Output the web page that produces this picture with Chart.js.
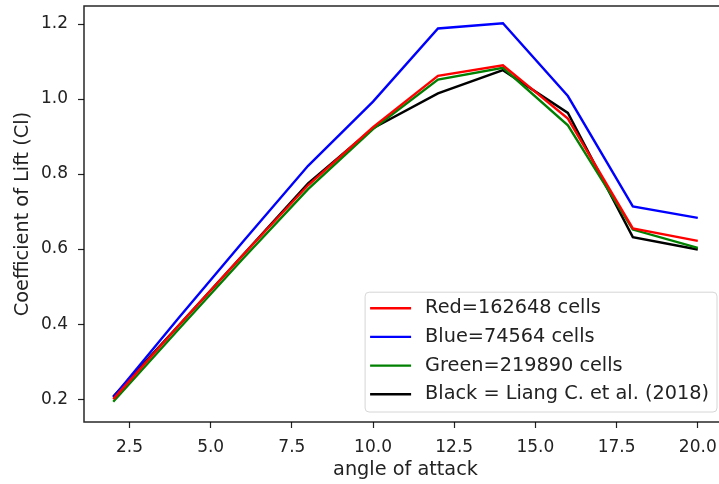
<!DOCTYPE html>
<html>
<head>
<meta charset="utf-8">
<script src="https://cdn.jsdelivr.net/npm/chart.js"></script>
<style>
  html, body { margin: 0; padding: 0; background: #fff; overflow: hidden; }
  #wrap { position: relative; width: 745px; height: 484px; }
</style>
</head>
<body>
<div id="wrap"><canvas id="liftChart"></canvas></div>
<script>
// angle of attack (deg)
const angles = [2, 4, 6, 8, 10, 12, 14, 16, 18, 20];

// lift coefficient per mesh
const redCl   = [0.200, 0.395, 0.585, 0.770, 0.925, 1.062, 1.090, 0.948, 0.655, 0.622];
const blueCl  = [0.205, 0.415, 0.620, 0.822, 0.993, 1.188, 1.202, 1.008, 0.714, 0.683];
const greenCl = [0.193, 0.385, 0.575, 0.760, 0.920, 1.052, 1.083, 0.930, 0.652, 0.603];
const blackCl = [0.207, 0.395, 0.585, 0.775, 0.922, 1.015, 1.077, 0.963, 0.632, 0.599];

const seriesLabels = ['Red=162648 cells', 'Blue=74564 cells', 'Green=219890 cells', 'Black = Liang C. et al. (2018)'];
const seriesColors = ['#ff0000', '#0000ff', '#008000', '#000000'];

const xTicks = [2.5, 5.0, 7.5, 10.0, 12.5, 15.0, 17.5, 20.0];
const yTicks = [0.2, 0.4, 0.6, 0.8, 1.0, 1.2];

const FONT = "'DejaVu Sans', sans-serif";
const TEXT = '#222';
const TICK_SIZE = 17;
const LABEL_SIZE = 19.3;

function toPoints(values) {
    return angles.map((a, i) => ({ x: a, y: values[i] }));
}

// axes frame, like matplotlib spines
const framePlugin = {
    id: 'frame',
    afterDraw(chart) {
        const { ctx, chartArea: a } = chart;
        ctx.save();
        ctx.strokeStyle = 'rgba(0,0,0,0.85)';
        ctx.lineWidth = 1.5;
        ctx.strokeRect(a.left, a.top, a.right - a.left, a.bottom - a.top);
        ctx.restore();
    }
};

// legend box in the lower right of the axes
const boxLegendPlugin = {
    id: 'boxLegend',
    afterDatasetsDraw(chart) {
        const { ctx, chartArea: a } = chart;
        const sets = chart.data.datasets;
        ctx.save();
        ctx.font = LABEL_SIZE + 'px ' + FONT;
        let maxW = 0;
        sets.forEach(ds => { maxW = Math.max(maxW, ctx.measureText(ds.label).width); });
        const rowH = 28.7;
        const w = 5 + 41 + 14 + maxW + 8;
        const h = sets.length * rowH + 5;
        const right = 717;
        const bottom = a.bottom - 10;
        const left = right - w;
        const top = bottom - h;

        ctx.beginPath();
        ctx.roundRect(left, top, w, h, 4);
        ctx.fillStyle = 'rgba(255,255,255,0.85)';
        ctx.fill();
        ctx.strokeStyle = '#d6d6d6';
        ctx.lineWidth = 1;
        ctx.stroke();

        sets.forEach((ds, i) => {
            const cy = top + 16 + i * rowH;
            ctx.beginPath();
            ctx.moveTo(left + 5, cy);
            ctx.lineTo(left + 46, cy);
            ctx.strokeStyle = ds.borderColor;
            ctx.lineWidth = 2.4;
            ctx.stroke();
            ctx.fillStyle = TEXT;
            ctx.textBaseline = 'middle';
            ctx.textAlign = 'left';
            ctx.fillText(ds.label, left + 60, cy);
        });
        ctx.restore();
    }
};

const allSeries = [redCl, blueCl, greenCl, blackCl];

new Chart(document.getElementById('liftChart'), {
    type: 'line',
    data: {
        datasets: allSeries.map((vals, i) => ({
            label: seriesLabels[i],
            data: toPoints(vals),
            borderColor: seriesColors[i],
            backgroundColor: seriesColors[i],
            borderWidth: 2.4,
            pointRadius: 0,
            tension: 0,
            fill: false
        }))
    },
    options: {
        responsive: true,
        maintainAspectRatio: false,
        animation: false,
        layout: { padding: { top: 6, right: 18, bottom: 0, left: 0 } },
        plugins: {
            legend: { display: false },
            tooltip: { enabled: false }
        },
        scales: {
            x: {
                type: 'linear',
                min: 1.1,
                max: 20.9,
                afterBuildTicks: s => { s.ticks = xTicks.map(v => ({ value: v })); },
                afterFit: s => { s.height = 62; s.paddingLeft = 0; s.paddingRight = 0; },
                grid: { drawOnChartArea: false, drawTicks: true, tickLength: 6, tickColor: TEXT, tickWidth: 1.2 },
                border: { display: false },
                ticks: {
                    padding: 9,
                    color: TEXT,
                    font: { family: FONT, size: TICK_SIZE },
                    maxRotation: 0,
                    callback: v => Number(v).toFixed(1)
                },
                title: {
                    display: true,
                    text: 'angle of attack',
                    color: TEXT,
                    font: { family: FONT, size: LABEL_SIZE },
                    padding: { top: 0, bottom: 2 }
                }
            },
            y: {
                type: 'linear',
                min: 0.139,
                max: 1.248,
                afterBuildTicks: s => { s.ticks = yTicks.map(v => ({ value: v })); },
                afterFit: s => { s.width = 84; s.paddingTop = 0; s.paddingBottom = 0; },
                grid: { drawOnChartArea: false, drawTicks: true, tickLength: 6, tickColor: TEXT, tickWidth: 1.2 },
                border: { display: false },
                ticks: {
                    padding: 10,
                    color: TEXT,
                    font: { family: FONT, size: TICK_SIZE },
                    callback: v => Number(v).toFixed(1)
                },
                title: {
                    display: true,
                    text: 'Coefficient of Lift (Cl)',
                    color: TEXT,
                    font: { family: FONT, size: LABEL_SIZE },
                    padding: { top: 11, bottom: 0 }
                }
            }
        }
    },
    plugins: [framePlugin, boxLegendPlugin]
});
</script>
</body>
</html>
